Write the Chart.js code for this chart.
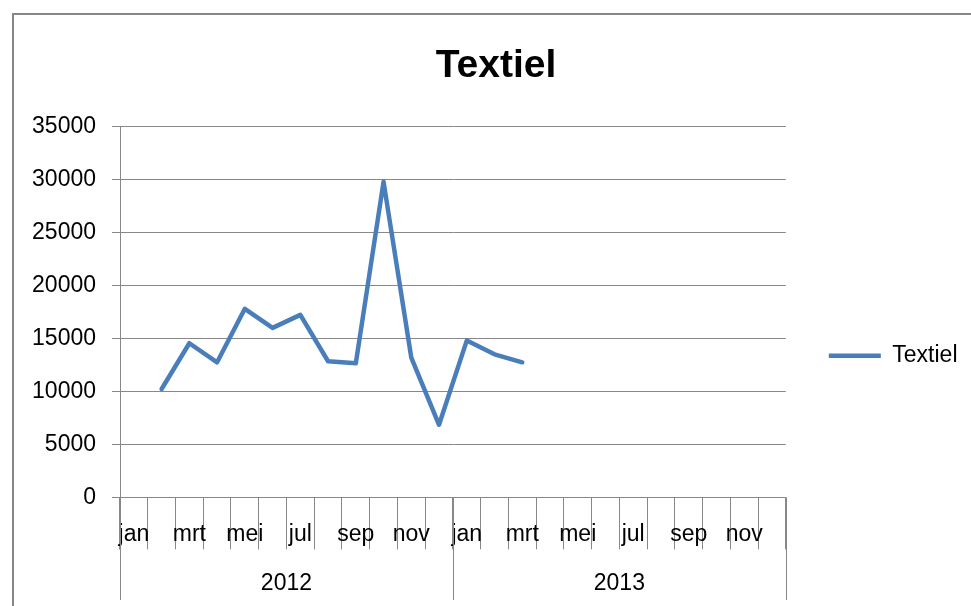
<!DOCTYPE html>
<html>
<head>
<meta charset="utf-8">
<script src="https://cdn.jsdelivr.net/npm/chart.js@4.4.1/dist/chart.umd.min.js"></script>
<style>
html,body{margin:0;padding:0;background:#fff;overflow:hidden}
#wrap{width:971px;height:606px;position:relative}
</style>
</head>
<body>
<div id="wrap"><canvas id="c" width="971" height="606"></canvas></div>
<script>
// ---- data ----
const chartTitle = 'Textiel';
const seriesName = 'Textiel';
const months = ['jan','feb','mrt','apr','mei','jun','jul','aug','sep','okt','nov','dec'];
const years = ['2012','2013'];
const textielValues = [null,10230,14550,12750,17800,16000,17230,12850,12650,29800,13200,6850,
                       14800,13500,12750,null,null,null,null,null,null,null,null,null];
const yMin = 0, yMax = 35000, yStep = 5000;

// ---- styles ----
const FONT = '"Liberation Sans", Arial, sans-serif';
const GRID = '#888888';
const LINE = '#4A7EBB';

const categories = [];
years.forEach(y => months.forEach(m => categories.push(m + ' ' + y)));

Chart.defaults.font.family = FONT;
Chart.defaults.color = '#000';

const framePlugin = {
  id: 'frame',
  beforeDraw(chart) {
    const c = chart.ctx;
    c.save();
    c.fillStyle = '#fff';
    c.fillRect(0, 0, chart.width, chart.height);
    c.strokeStyle = '#868686';
    c.lineWidth = 2;
    c.strokeRect(13, 14, 1000, 1000);
    c.restore();
  },
  afterDraw(chart) {
    const x = chart.scales.x, a = chart.chartArea, c = chart.ctx;
    const step = x.getPixelForValue(1) - x.getPixelForValue(0);
    c.save();
    c.strokeStyle = GRID;
    c.lineWidth = 1;
    c.fillStyle = '#000';
    c.font = '23px ' + FONT;
    c.textAlign = 'center';
    c.textBaseline = 'middle';
    years.forEach((yr, k) => {
      const l = x.getPixelForValue(k * months.length) - step / 2;
      const r = x.getPixelForValue(k * months.length + months.length - 1) + step / 2;
      c.beginPath();
      c.moveTo(Math.round(l) + 0.5, a.bottom);
      c.lineTo(Math.round(l) + 0.5, 600);
      c.moveTo(Math.round(r) + 0.5, a.bottom);
      c.lineTo(Math.round(r) + 0.5, 600);
      c.stroke();
      c.fillText(yr, (l + r) / 2, 584);
    });
    c.restore();
  }
};

new Chart(document.getElementById('c'), {
  type: 'line',
  data: {
    labels: categories,
    datasets: [{
      label: seriesName,
      data: textielValues,
      borderColor: LINE,
      backgroundColor: LINE,
      borderWidth: 4.5,
      borderJoinStyle: 'round',
      borderCapStyle: 'round',
      pointRadius: 0,
      pointHoverRadius: 0,
      tension: 0,
      spanGaps: false,
      fill: false
    }]
  },
  options: {
    responsive: false,
    devicePixelRatio: 1,
    animation: false,
    layout: { padding: { left: 24.5, right: 3.5, top: 0, bottom: 0 } },
    plugins: {
      tooltip: { enabled: false },
      title: {
        display: true,
        text: chartTitle,
        color: '#000',
        font: { size: 39, weight: 'bold', family: FONT },
        padding: { top: 42.6, bottom: 37.3 }
      },
      legend: {
        position: 'right',
        align: 'center',
        title: { display: true, text: ' ', font: { size: 10 }, padding: { top: 93.4, bottom: 0 } },
        labels: {
          usePointStyle: true,
          pointStyle: 'line',
          pointStyleWidth: 52,
          padding: 43,
          color: '#000',
          font: { size: 23, family: FONT }
        }
      }
    },
    scales: {
      x: {
        type: 'category',
        offset: true,
        grid: { display: true, drawOnChartArea: false, offset: true, tickLength: 52, color: GRID, lineWidth: 1 },
        border: { display: true, color: GRID, width: 1 },
        ticks: {
          autoSkip: false,
          maxRotation: 0,
          minRotation: 0,
          padding: -28,
          color: '#000',
          font: { size: 23, family: FONT },
          callback: function (v, i) { return i % 2 === 0 ? months[i % months.length] : ''; }
        },
        afterFit(s) { s.height = 606 - 497.3; }
      },
      y: {
        min: yMin,
        max: yMax,
        grid: { color: GRID, lineWidth: 1, tickLength: 8 },
        border: { display: true, color: GRID, width: 1 },
        ticks: {
          stepSize: yStep,
          padding: 16,
          color: '#000',
          font: { size: 23, family: FONT },
          callback: v => String(v)
        },
        afterFit(s) { s.width = 120 - 24.5; }
      }
    }
  },
  plugins: [framePlugin]
});
</script>
</body>
</html>
